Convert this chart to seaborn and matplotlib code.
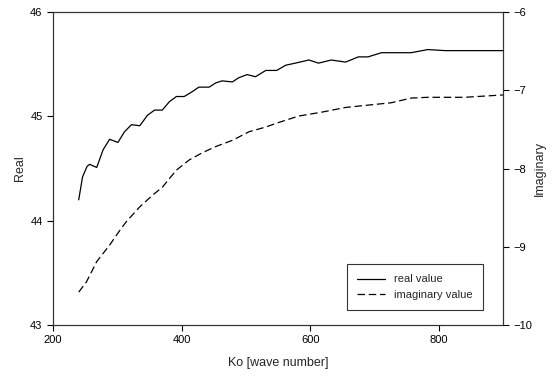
import pandas as pd
import matplotlib
matplotlib.use("Agg")
import matplotlib.pyplot as plt
import seaborn as sns

# values
ko_real = [240, 246, 253, 257, 268, 278, 288, 301, 311, 322, 335, 347, 358, 370, 381,
           392, 404, 415, 427, 443, 453, 463, 479, 489, 502, 515, 531, 548, 562, 577,
           598, 613, 633, 655, 675, 690, 711, 732, 757, 783, 810, 840, 900]
real = [44.20, 44.42, 44.52, 44.54, 44.51, 44.68, 44.78, 44.75, 44.85, 44.92, 44.91,
        45.01, 45.06, 45.06, 45.14, 45.19, 45.19, 45.23, 45.28, 45.28, 45.32, 45.34,
        45.33, 45.37, 45.40, 45.38, 45.44, 45.44, 45.49, 45.51, 45.54, 45.51, 45.54,
        45.52, 45.57, 45.57, 45.61, 45.61, 45.61, 45.64, 45.63, 45.63, 45.63]

ko_imag = [240, 252, 268, 288, 304, 314, 335, 355, 370, 392, 412, 432, 453, 479, 505,
           531, 548, 582, 618, 655, 690, 726, 757, 783, 810, 840, 900]
imag = [-9.58, -9.45, -9.19, -8.98, -8.79, -8.68, -8.49, -8.34, -8.24, -8.02, -7.89,
        -7.80, -7.72, -7.64, -7.53, -7.47, -7.42, -7.33, -7.28, -7.22, -7.19, -7.16,
        -7.10, -7.09, -7.09, -7.09, -7.06]

df_real = pd.DataFrame({"Ko": ko_real, "value": real})
df_imag = pd.DataFrame({"Ko": ko_imag, "value": imag})

sns.set_style("ticks")
plt.rcParams["font.family"] = ["Liberation Sans", "DejaVu Sans"]

fig = plt.figure(figsize=(5.56, 3.79), dpi=100)
ax = fig.add_axes([0.0953, 0.1425, 0.8094, 0.8258])
ax2 = ax.twinx()

sns.lineplot(data=df_real, x="Ko", y="value", ax=ax, color="black", lw=0.9,
             label="real value", legend=False)
sns.lineplot(data=df_imag, x="Ko", y="value", ax=ax2, color="black", lw=0.9,
             label="imaginary value", legend=False)
ax2.lines[0].set_dashes([6, 3])

ax.set_xlim(200, 900)
ax.set_ylim(43, 46)
ax2.set_ylim(-10, -6)
ax.set_xticks([200, 400, 600, 800])
ax.set_yticks([43, 44, 45, 46])
ax2.set_yticks([-10, -9, -8, -7, -6])

ax.set_xlabel("Ko [wave number]", fontsize=9, labelpad=8)
ax.set_ylabel("Real", fontsize=9, labelpad=3)
ax2.set_ylabel("Imaginary", fontsize=9, labelpad=1)

for a in (ax, ax2):
    a.tick_params(direction="out", length=4, width=0.8, labelsize=8, colors="black")
    for s in a.spines.values():
        s.set_color("#333333")
        s.set_linewidth(0.8)

handles = ax.get_lines()[:1] + ax2.get_lines()[:1]
leg = ax.legend(handles, ["real value", "imaginary value"], loc="lower right",
                bbox_to_anchor=(0.955, 0.048), fontsize=8, frameon=True,
                fancybox=False, handlelength=2.5, borderpad=0.9, borderaxespad=0)
leg.get_frame().set_edgecolor("black")
leg.get_frame().set_linewidth(0.8)

fig.savefig("out.png", dpi=100)
